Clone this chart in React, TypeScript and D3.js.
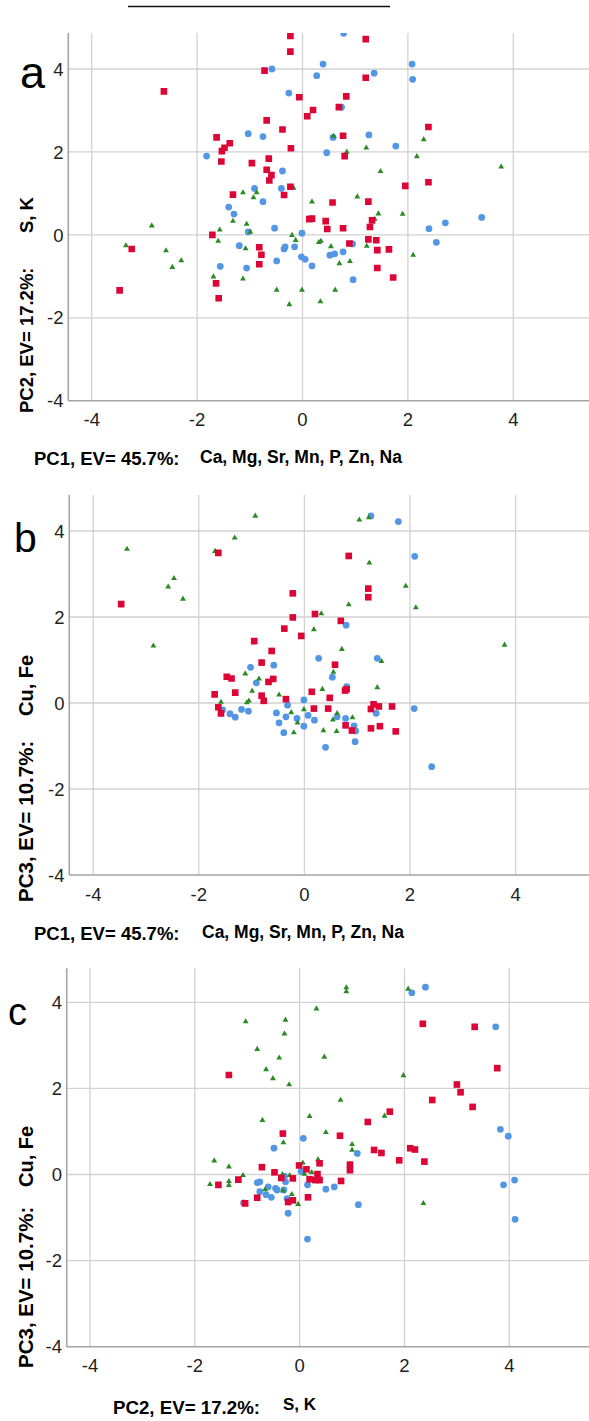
import React from 'react';
import * as d3 from 'd3';

const width = 589;
const height = 1421;

// tick values shared by every panel
const tickValues = [-4, -2, 0, 2, 4];

// panel a : PC1 vs PC2
const aBlue: [number, number][] = [
  [0.78, 4.86], [0.39, 4.12], [2.08, 4.12], [-0.58, 4.0], [0.27, 3.84], [1.36, 3.9], [2.09, 3.75],
  [-0.26, 3.42], [0.74, 3.08], [-1.03, 2.44], [-0.75, 2.37], [0.58, 2.35], [1.26, 2.41], [1.77, 2.14],
  [0.46, 1.98], [-1.82, 1.9], [-0.38, 1.54], [-0.91, 1.12], [-0.4, 1.12], [-0.75, 0.8], [-1.4, 0.67],
  [-1.3, 0.5], [3.4, 0.42], [-0.53, 0.16], [-1.03, 0.07], [2.4, 0.15], [2.71, 0.29], [-0.01, 0.04],
  [2.54, -0.18], [0.95, -0.22], [-1.2, -0.26], [-0.33, -0.29], [-0.35, -0.34], [-0.15, -0.29],
  [0.77, -0.41], [0.52, -0.49], [0.61, -0.46], [-0.02, -0.53], [0.05, -0.59], [-0.49, -0.63],
  [-1.56, -0.76], [-1.06, -0.8], [0.18, -0.75], [0.96, -1.08],
];
const aRed: [number, number][] = [
  [-0.23, 4.8], [1.2, 4.72], [-0.23, 4.42], [-0.72, 3.96], [1.2, 3.79], [-2.63, 3.46], [-0.06, 3.32],
  [0.83, 3.34], [0.2, 3.01], [0.69, 3.08], [0.09, 2.86], [-0.68, 2.76], [2.39, 2.6], [-1.63, 2.35],
  [-0.38, 2.54], [0.77, 2.39], [-1.48, 2.1], [-1.53, 2.02], [-1.38, 2.21], [-0.22, 2.09], [0.8, 1.9],
  [-1.54, 1.77], [-0.96, 1.73], [-0.64, 1.84], [-0.68, 1.57], [-0.59, 1.44], [-0.63, 1.31], [2.39, 1.27],
  [1.95, 1.18], [-0.23, 1.16], [-1.32, 0.97], [-0.35, 0.96], [0.57, 0.78], [1.25, 0.8], [0.13, 0.38],
  [0.18, 0.39], [0.44, 0.33], [1.32, 0.35], [0.47, 0.14], [0.77, 0.16], [1.28, 0.19], [-1.71, 0.0],
  [1.25, -0.11], [1.4, -0.13], [0.89, -0.21], [-3.24, -0.34], [-0.82, -0.3], [1.42, -0.37], [1.64, -0.35],
  [-0.78, -0.48], [-0.82, -0.71], [1.42, -0.8], [1.72, -1.03], [-1.64, -1.17], [-3.47, -1.34], [-1.59, -1.53],
];
const aGreen: [number, number][] = [
  [0.59, 2.38], [2.3, 2.3], [1.21, 2.1], [0.84, 2.0], [2.17, 1.89], [3.77, 1.64], [1.48, 1.53],
  [-0.17, 1.13], [-1.13, 1.02], [-0.87, 1.02], [-0.93, 0.9], [0.18, 0.8], [1.04, 0.92], [1.44, 0.51],
  [1.9, 0.5], [1.37, 0.38], [-1.32, 0.33], [-2.86, 0.22], [-1.06, 0.26], [-1.57, 0.12], [-0.99, 0.07],
  [-0.2, -0.01], [-0.13, -0.13], [-1.6, -0.15], [0.31, -0.18], [0.35, -0.15], [-3.35, -0.26], [-1.08, -0.33],
  [0.54, -0.28], [1.22, -0.27], [-2.59, -0.38], [2.1, -0.49], [-2.3, -0.62], [0.7, -0.69], [0.9, -0.64],
  [-2.47, -0.78], [-1.69, -1.01], [-1.13, -1.06], [-0.49, -1.33], [-0.01, -1.33], [0.62, -1.33],
  [-0.25, -1.68], [0.34, -1.61],
];

// panel b : PC1 vs PC3
const bBlue: [number, number][] = [
  [1.26, 4.35], [1.78, 4.22], [2.09, 3.41], [0.79, 1.81], [0.27, 1.04], [1.38, 1.04], [-1.02, 0.83],
  [-0.58, 0.88], [0.53, 0.6], [-0.91, 0.47], [0.8, 0.38], [-0.01, 0.07], [-0.32, -0.05], [2.08, -0.13],
  [-1.55, -0.16], [-1.19, -0.15], [-1.06, -0.19], [-1.41, -0.25], [-1.31, -0.33], [-0.53, -0.23],
  [0.07, -0.29], [-0.35, -0.32], [-0.14, -0.36], [0.19, -0.4], [0.62, -0.32], [0.78, -0.36], [1.36, -0.24],
  [-0.48, -0.46], [-0.01, -0.54], [0.94, -0.53], [0.97, -0.65], [-0.39, -0.69], [0.96, -0.9],
  [0.4, -1.03], [2.41, -1.48],
];
const bRed: [number, number][] = [
  [-1.63, 3.49], [0.84, 3.42], [-0.22, 2.55], [1.21, 2.66], [1.21, 2.46], [-3.47, 2.3], [0.2, 2.07],
  [-0.22, 1.99], [0.69, 1.91], [-0.38, 1.73], [-0.06, 1.56], [-0.95, 1.44], [-0.62, 1.21], [-0.81, 0.94],
  [0.58, 0.89], [-1.47, 0.61], [-1.38, 0.57], [-0.59, 0.56], [-0.68, 0.49], [0.8, 0.32], [0.77, 0.29],
  [-1.7, 0.2], [-1.31, 0.24], [0.14, 0.26], [-0.81, 0.17], [-0.77, 0.05], [0.48, 0.12], [-0.35, 0.09],
  [1.31, -0.03], [1.26, -0.14], [1.41, -0.08], [1.66, -0.08], [-1.63, -0.1], [-1.58, -0.24], [0.18, -0.13],
  [0.45, -0.13], [0.78, -0.52], [1.43, -0.54], [1.26, -0.59], [0.9, -0.64], [1.73, -0.66],
];
const bGreen: [number, number][] = [
  [-0.93, 4.35], [1.04, 4.26], [1.22, 4.31], [-1.32, 3.84], [-3.36, 3.58], [-1.69, 3.53], [1.23, 3.26],
  [-2.47, 2.9], [-2.58, 2.7], [1.92, 2.72], [-2.3, 2.42], [0.84, 2.29], [2.11, 2.22], [0.32, 2.08],
  [0.18, 1.71], [-2.86, 1.33], [3.79, 1.35], [0.71, 1.25], [1.46, 0.97], [-1.12, 0.68], [0.55, 0.72],
  [-0.86, 0.56], [1.38, 0.36], [-0.99, 0.28], [0.34, 0.32], [-0.48, 0.19], [-1.09, 0.01], [-1.05, 0.05],
  [-1.58, 0.02], [-0.01, -0.15], [-0.25, -0.22], [0.62, -0.24], [0.91, -0.34], [0.54, -0.39],
  [-0.13, -0.46], [-0.2, -0.69], [0.36, -0.64], [0.61, -0.66],
];

// panel c : PC2 vs PC3
const cBlue: [number, number][] = [
  [2.14, 4.22], [2.4, 4.35], [3.74, 3.43], [3.83, 1.05], [3.98, 0.89], [0.07, 0.84], [-0.49, 0.61],
  [1.1, 0.49], [0.03, 0.07], [-0.29, -0.04], [-0.27, -0.17], [-0.81, -0.19], [-0.76, -0.17], [0.15, -0.24],
  [0.66, -0.29], [-0.6, -0.29], [3.89, -0.24], [4.1, -0.13], [-0.76, -0.4], [-0.46, -0.32], [-0.43, -0.36],
  [-0.3, -0.36], [0.5, -0.34], [-0.64, -0.47], [-0.54, -0.53], [-0.24, -0.56], [-1.07, -0.66], [1.12, -0.7],
  [-0.22, -0.9], [4.11, -1.04], [0.15, -1.5],
];
const cRed: [number, number][] = [
  [2.35, 3.5], [3.34, 3.43], [3.77, 2.47], [-1.35, 2.31], [3.0, 2.09], [3.07, 1.91], [2.53, 1.73],
  [3.3, 1.57], [1.72, 1.46], [1.3, 1.22], [-0.32, 0.95], [0.77, 0.9], [1.42, 0.57], [1.56, 0.5],
  [2.11, 0.61], [2.2, 0.58], [1.9, 0.33], [2.38, 0.3], [-0.72, 0.17], [-0.01, 0.21], [0.13, 0.12],
  [0.38, 0.26], [0.96, 0.23], [0.96, 0.1], [-0.48, 0.05], [0.34, 0.01], [0.35, -0.12], [0.38, -0.13],
  [0.3, -0.13], [-0.35, -0.08], [-0.13, -0.09], [0.19, -0.11], [-1.55, -0.24], [-1.17, -0.12], [0.79, -0.15],
  [-0.81, -0.54], [0.16, -0.53], [-0.22, -0.64], [-0.13, -0.6], [-1.04, -0.67],
];
const cGreen: [number, number][] = [
  [0.89, 4.34], [0.89, 4.25], [2.07, 4.31], [0.32, 3.85], [-1.03, 3.55], [-0.27, 3.59], [-0.29, 3.27],
  [-0.81, 2.91], [-0.39, 2.71], [0.47, 2.73], [-0.64, 2.44], [-0.51, 2.23], [1.98, 2.3], [-0.2, 2.09],
  [0.78, 1.73], [1.62, 1.36], [0.19, 1.35], [-0.71, 1.26], [0.5, 0.98], [-0.31, 0.74], [1.0, 0.7],
  [1.0, 0.57], [-1.63, 0.32], [-1.35, 0.18], [0.06, 0.27], [0.35, 0.35], [-1.08, -0.02], [-0.33, 0.0],
  [-0.19, -0.02], [0.09, 0.01], [0.23, 0.05], [-1.71, -0.23], [-1.35, -0.16], [-1.35, -0.25],
  [-0.66, -0.35], [-0.32, -0.38], [-0.15, -0.46], [-0.03, -0.69], [2.36, -0.67],
];

const pc1Title = 'PC1, EV= 45.7%:';
const pc1Vars = 'Ca, Mg, Sr, Mn, P, Zn, Na';
const pc2Title = 'PC2, EV= 17.2%:';
const pc2Vars = 'S, K';
const pc3Title = 'PC3, EV= 10.7%:';
const pc3Vars = 'Cu, Fe';

const font = '"Liberation Sans", Arial, sans-serif';
const red = '#dc0536';
const blue = '#5396e4';
const green = '#2b8a24';
const gridColor = '#d2d2d2';
const axisColor = '#a4a4a4';

const squarePath = d3.symbol(d3.symbolSquare, 44)()!;
const circlePath = d3.symbol(d3.symbolCircle, 36)()!;
const trianglePath = d3.symbol(d3.symbolTriangle, 15)()!;

const panels = [
  {
    id: 'a', blue: aBlue, red: aRed, green: aGreen,
    left: 68.3, top: 33, bottom: 400.7, xr: [91.7, 513.3], yr: [400.7, 69],
    yTickX: 63.5, letter: { x: 20, y: 88, size: 45 },
    xTitle: { text: pc1Title, x: 34, y: 465, size: 18.5 },
    xVars: { text: pc1Vars, x: 200, y: 462.5, size: 17.5 },
    yTitle: { text: pc2Title, x: 33, y: 413, size: 18.5 },
    yVars: { text: pc2Vars, x: 33, y: 233, size: 18.5 },
  },
  {
    id: 'b', blue: bBlue, red: bRed, green: bGreen,
    left: 69.3, top: 495, bottom: 875, xr: [93.2, 515.6], yr: [875, 531],
    yTickX: 64.5, letter: { x: 14, y: 552, size: 41 },
    xTitle: { text: pc1Title, x: 34, y: 940, size: 18.5 },
    xVars: { text: pc1Vars, x: 202, y: 938, size: 17.5 },
    yTitle: { text: pc3Title, x: 33, y: 902, size: 20.5 },
    yVars: { text: pc3Vars, x: 33, y: 716, size: 20 },
  },
  {
    id: 'c', blue: cBlue, red: cRed, green: cGreen,
    left: 66.7, top: 968.3, bottom: 1346.7, xr: [90, 509.3], yr: [1346.7, 1002.3],
    yTickX: 62, letter: { x: 8, y: 1025, size: 38 },
    xTitle: { text: pc2Title, x: 113, y: 1414, size: 18.7 },
    xVars: { text: pc2Vars, x: 283, y: 1410, size: 17 },
    yTitle: { text: pc3Title, x: 33, y: 1368, size: 20.5 },
    yVars: { text: pc3Vars, x: 33, y: 1187, size: 20 },
  },
];

type PanelDef = typeof panels[number];

const Panel = ({ p }: { p: PanelDef }) => {
  const x = d3.scaleLinear().domain([-4, 4]).range(p.xr);
  const y = d3.scaleLinear().domain([-4, 4]).range(p.yr);
  const clipId = `clip-${p.id}`;

  return (
    <g>
      <defs>
        <clipPath id={clipId}>
          <rect x={p.left} y={p.top} width={width - p.left} height={p.bottom - p.top} />
        </clipPath>
      </defs>

      {tickValues.map(t => (
        <line key={'vx' + t} x1={x(t)} x2={x(t)} y1={p.top} y2={p.bottom}
          stroke={gridColor} strokeWidth={1.3} />
      ))}
      {tickValues.filter(t => t > -4).map(t => (
        <line key={'hy' + t} x1={p.left} x2={width} y1={y(t)} y2={y(t)}
          stroke={gridColor} strokeWidth={1.3} />
      ))}

      <line x1={p.left} x2={p.left} y1={p.top} y2={p.bottom} stroke={axisColor} strokeWidth={1.6} />
      <line x1={p.left} x2={width} y1={p.bottom} y2={p.bottom} stroke={axisColor} strokeWidth={1.6} />

      {tickValues.map(t => (
        <text key={'xl' + t} x={x(t)} y={p.bottom + 25.5} textAnchor="middle"
          fontFamily={font} fontSize={18.5} fill="#222">{t}</text>
      ))}
      {tickValues.map(t => (
        <text key={'yl' + t} x={p.yTickX} y={y(t)} dy="0.36em" textAnchor="end"
          fontFamily={font} fontSize={18.5} fill="#222">{t}</text>
      ))}

      <g clipPath={`url(#${clipId})`}>
        {p.blue.map((d, i) => (
          <path key={'b' + i} d={circlePath} transform={`translate(${x(d[0])},${y(d[1])})`} fill={blue} />
        ))}
        {p.green.map((d, i) => (
          <path key={'g' + i} d={trianglePath} transform={`translate(${x(d[0])},${y(d[1])})`} fill={green} />
        ))}
        {p.red.map((d, i) => (
          <path key={'r' + i} d={squarePath} transform={`translate(${x(d[0])},${y(d[1])})`} fill={red} />
        ))}
      </g>

      <text x={p.letter.x} y={p.letter.y} fontFamily={font} fontSize={p.letter.size} fill="#000">{p.id}</text>

      <text x={p.xTitle.x} y={p.xTitle.y} fontFamily={font} fontWeight="bold" fontSize={p.xTitle.size}>{p.xTitle.text}</text>
      <text x={p.xVars.x} y={p.xVars.y} fontFamily={font} fontWeight="bold" fontSize={p.xVars.size}>{p.xVars.text}</text>
      <text transform={`translate(${p.yTitle.x},${p.yTitle.y}) rotate(-90)`} fontFamily={font}
        fontWeight="bold" fontSize={p.yTitle.size}>{p.yTitle.text}</text>
      <text transform={`translate(${p.yVars.x},${p.yVars.y}) rotate(-90)`} fontFamily={font}
        fontWeight="bold" fontSize={p.yVars.size}>{p.yVars.text}</text>
    </g>
  );
};

const App = () => (
  <svg width={width} height={height} style={{ position: 'absolute', left: 0, top: 0, background: '#fff' }}>
    <rect width={width} height={height} fill="#fff" />
    <line x1={128} x2={390} y1={6.5} y2={6.5} stroke="#111" strokeWidth={1.3} />
    {panels.map(p => <Panel key={p.id} p={p} />)}
  </svg>
);

export default App;
